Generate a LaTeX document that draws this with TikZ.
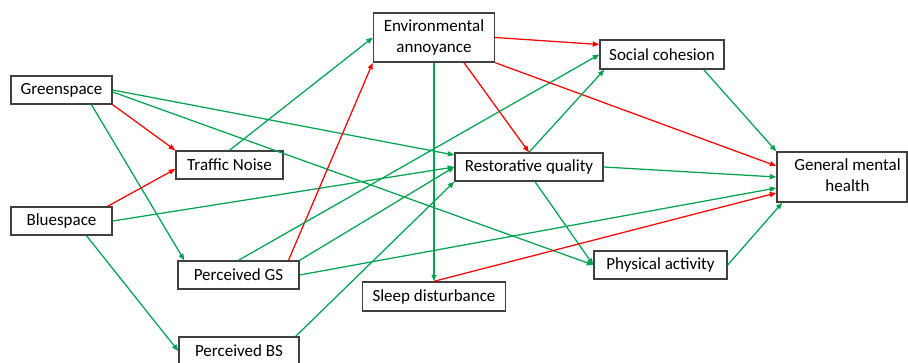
\documentclass[tikz,border=0pt]{standalone}
\usepackage{fontspec}
\setmainfont{Carlito}
\usetikzlibrary{arrows.meta}
\definecolor{pathgreen}{RGB}{0,163,80}
\definecolor{pathred}{RGB}{255,0,0}
\definecolor{boxgray}{RGB}{64,64,64}

\begin{document}
\begin{tikzpicture}[x=1pt,y=-1pt,
    var/.style={draw=boxgray, line width=1.4pt, inner sep=0pt, align=center, font=\fontsize{17}{21}\selectfont},
    goodpath/.style={color=pathgreen, line width=1.25pt, -{Triangle[length=6.5pt,width=5pt]}},
    badpath/.style={color=pathred, line width=1.25pt, -{Triangle[length=6.5pt,width=5pt]}}]
  \useasboundingbox (0,0) rectangle (908,363); % keeps the page at the size of the original
  % the boxes, placed at their centres
  \node[var, minimum width=101pt, minimum height=28pt] (green) at (61.5,90) {Greenspace};
  \node[var, minimum width=101pt, minimum height=28pt] (blue) at (61.5,221) {Bluespace};
  \node[var, minimum width=107pt, minimum height=28pt] (traffic) at (229.5,165) {Traffic Noise};
  \node[var, minimum width=121pt, minimum height=28pt] (pgs) at (238.5,275) {Perceived GS};
  \node[var, minimum width=120pt, minimum height=28pt] (pbs) at (239,351) {Perceived BS};
  \node[var, minimum width=121pt, minimum height=49pt] (annoy) at (434,37.5) {Environmental\\annoyance};
  \node[var, minimum width=143pt, minimum height=29pt] (sleep) at (434,296.5) {Sleep disturbance};
  \node[var, minimum width=148pt, minimum height=28pt] (restor) at (529,167) {Restorative quality};
  \node[var, minimum width=124pt, minimum height=29pt] (social) at (662,54.5) {Social cohesion};
  \node[var, minimum width=133pt, minimum height=28pt] (phys) at (660.5,265) {Physical activity};
  \node[var, minimum width=130pt, minimum height=50pt] (mental) at (842,177) {\kern11pt\begin{tabular}{@{}c@{}}General mental\\health\end{tabular}}; % text sits a little right of centre
  % paths out of green and blue space
  \draw[badpath] (green.south east) -- (traffic.north west);
  \draw[goodpath] ([xshift=30pt]green.south) -- ([xshift=7pt]pgs.north west);
  \draw[goodpath] (green.east) -- ([yshift=12pt]restor.west);
  \draw[goodpath] ([yshift=-2pt]green.east) -- (phys.west);
  \draw[badpath] ([xshift=-5pt]blue.north east) -- ([yshift=-4pt]traffic.west);
  \draw[goodpath] (blue.east) -- (restor.west);
  \draw[goodpath] ([xshift=25pt]blue.south) -- (pbs.west);
  % perceived space and noise
  \draw[goodpath] (traffic.north) -- (annoy.west);
  \draw[badpath] ([xshift=50pt]pgs.north) -- (annoy.south west);
  \draw[goodpath] (pgs.north) -- (social.west);
  \draw[goodpath] (pgs.north east) -- (restor.west);
  \draw[goodpath] (pgs.east) -- ([yshift=-11pt]mental.west);
  \draw[goodpath] ([xshift=-4pt]pbs.north east) -- (restor.south west);
  % annoyance
  \draw[badpath] (annoy.east) -- ([yshift=10pt]social.west);
  \draw[badpath] ([xshift=30pt]annoy.south) -- (restor.north);
  \draw[badpath] (annoy.south east) -- ([yshift=11pt]mental.west);
  \draw[goodpath] (annoy.south) -- (sleep.north);
  % mediators into mental health
  \draw[goodpath] (restor.north) -- ([xshift=5pt]social.south west);
  \draw[goodpath] (restor.east) -- (mental.west);
  \draw[goodpath] ([xshift=6pt]restor.south) -- (phys.west);
  \draw[badpath] (sleep.north) -- ([yshift=-16pt]mental.west);
  \draw[goodpath] ([xshift=-21pt]social.south east) -- (mental.north west);
  \draw[goodpath] (phys.east) -- ([xshift=6pt]mental.south west);
\end{tikzpicture}
\end{document}
